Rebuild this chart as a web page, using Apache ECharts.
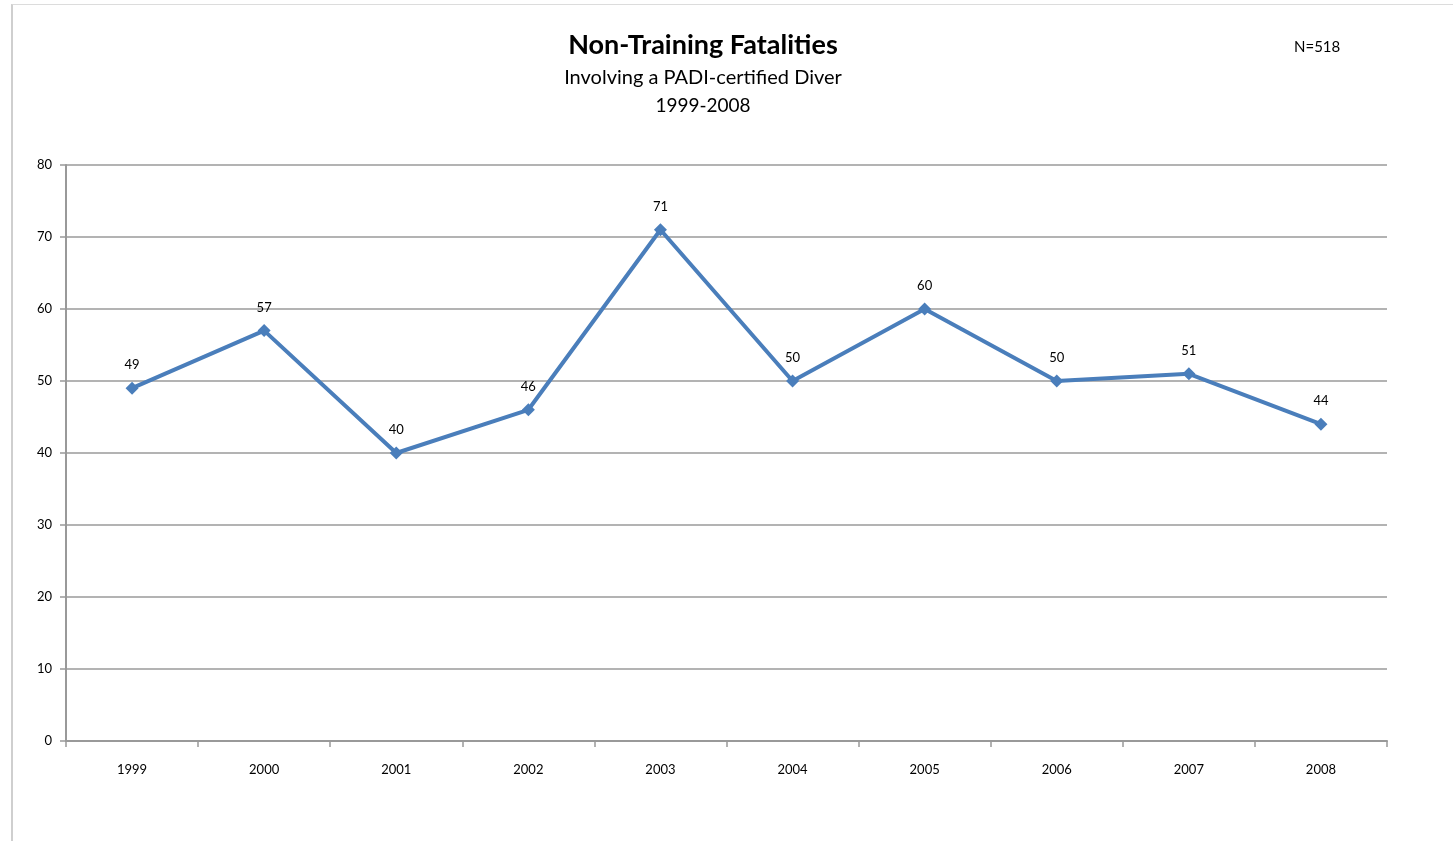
<!DOCTYPE html>
<html>
<head>
<meta charset="utf-8">
<script src="https://cdn.jsdelivr.net/npm/echarts@6/dist/echarts.min.js"></script>
<style>
html,body{margin:0;padding:0;background:#fff;}
#frame{position:absolute;left:11px;top:4px;width:1442px;height:837px;border-left:2px solid #cfcfcf;border-top:1px solid #dcdcdc;box-sizing:border-box;}
#chart{position:absolute;left:0;top:0;width:1453px;height:841px;}
</style>
</head>
<body>
<div id="frame"></div>
<div id="chart"></div>
<script>
const years = ['1999','2000','2001','2002','2003','2004','2005','2006','2007','2008'];
const fatalities = [49, 57, 40, 46, 71, 50, 60, 50, 51, 44];
const titleText = 'Non-Training Fatalities';
const subtitleLines = ['Involving a PADI-certified Diver', '1999-2008'];
const noteText = 'N=518';

const chart = echarts.init(document.getElementById('chart'));
const FONT = 'Lato, "Open Sans", sans-serif';
chart.setOption({
  backgroundColor: 'transparent',
  animation: false,
  title: [
    {text: titleText, left: 698, textAlign: 'center', top: 27, textStyle: {fontFamily: FONT, fontSize: 27, fontWeight: 'bold', color: '#000'}},
    {text: subtitleLines[0], left: 698, textAlign: 'center', top: 63, textStyle: {fontFamily: FONT, fontSize: 20, fontWeight: 'normal', color: '#000'}},
    {text: subtitleLines[1], left: 698, textAlign: 'center', top: 91, textStyle: {fontFamily: FONT, fontSize: 19, fontWeight: 'normal', color: '#000'}},
    {text: noteText, left: 1289, top: 35, textStyle: {fontFamily: FONT, fontSize: 15, fontWeight: 'normal', color: '#000'}}
  ],
  grid: {left: 66, right: 66, top: 165, bottom: 100, containLabel: false},
  xAxis: {
    type: 'category',
    data: years,
    boundaryGap: true,
    axisLine: {lineStyle: {color: '#999', width: 2}},
    axisTick: {show: true, length: 6, lineStyle: {color: '#999', width: 1.5}},
    axisLabel: {fontFamily: FONT, fontSize: 13, color: '#000', margin: 22}
  },
  yAxis: {
    type: 'value',
    min: 0, max: 80, interval: 10,
    axisLine: {show: true, lineStyle: {color: '#999', width: 2}},
    axisTick: {show: true, length: 6, lineStyle: {color: '#999', width: 1.5}},
    axisLabel: {fontFamily: FONT, fontSize: 13, color: '#000', margin: 14},
    splitLine: {lineStyle: {color: '#9a9a9a', width: 1.5}}
  },
  series: [{
    type: 'line',
    data: fatalities,
    symbol: 'diamond',
    symbolSize: 13,
    lineStyle: {color: '#4a7ebb', width: 4},
    itemStyle: {color: '#4a7ebb'},
    label: {show: true, position: 'top', distance: 10, fontFamily: FONT, fontSize: 13, color: '#000'}
  }]
});
</script>
</body>
</html>
